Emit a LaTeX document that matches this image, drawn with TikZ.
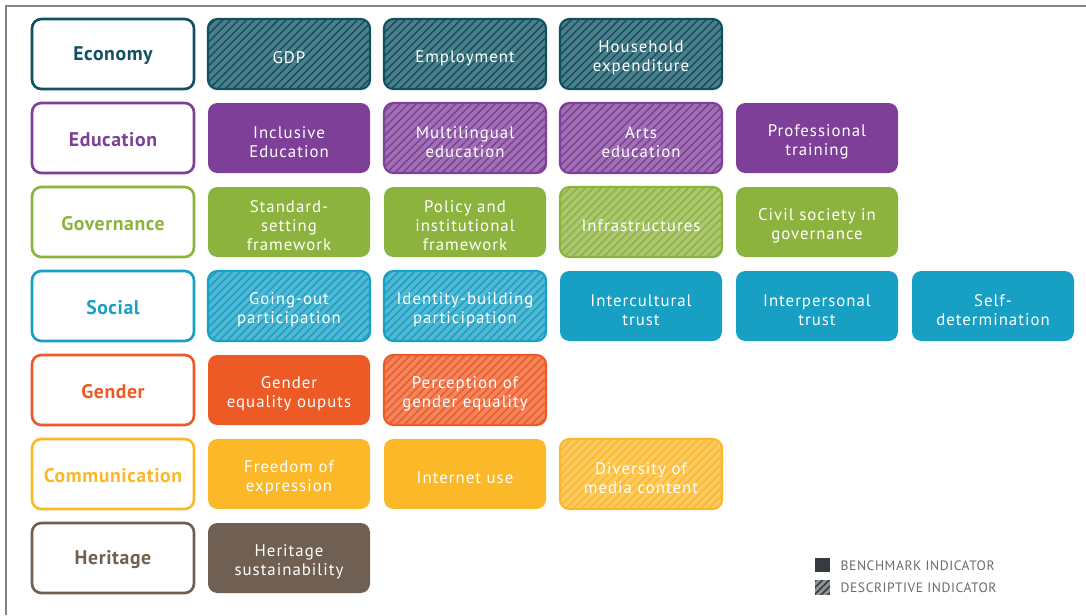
\documentclass[tikz,border=0pt]{standalone}
\usepackage{fontspec}
\setmainfont{PT Sans}
\newfontfamily\boxfont[LetterSpace=6]{PT Sans}
\newfontfamily\catfont[LetterSpace=3]{PT Sans}
\newfontfamily\keyfont[LetterSpace=4]{PT Sans}
\usepackage{tikz}
\usetikzlibrary{patterns.meta}

\definecolor{ecoCol}{HTML}{0F5160}
\definecolor{eduCol}{HTML}{7D3F98}
\definecolor{govCol}{HTML}{8DB33F}
\definecolor{socCol}{HTML}{179FC4}
\definecolor{genCol}{HTML}{EE5A25}
\definecolor{comCol}{HTML}{FBB829}
\definecolor{herCol}{HTML}{6F6053}
\definecolor{keyCol}{HTML}{353B40}
\definecolor{frameCol}{HTML}{858585}

\tikzset{
  cell/.style={rounded corners=7pt, minimum width=121.5pt, minimum height=52.5pt,
    text width=116pt, align=center, inner sep=0pt},
  catbox/.style={cell, draw=#1, line width=2pt, fill=white, text=#1,
    font=\catfont\bfseries\fontsize{14.8}{17}\selectfont,
    execute at begin node={\rule{0pt}{12.5pt}}},
  bench/.style={cell, fill=#1, text=white,
    font=\boxfont\fontsize{12.6}{14.2}\selectfont,
    execute at begin node={\rule{0pt}{14.6pt}}},
  descr/.style={bench=#1, draw=#1, line width=1.6pt, fill=#1!74!white,
    postaction={pattern={Lines[angle=45, distance=4.2pt, line width=1.1pt]}, pattern color=#1}},
  keytext/.style={anchor=west, text=black!58, font=\keyfont\fontsize{10.2}{12}\selectfont}
}

\begin{document}
\begin{tikzpicture}[x=0.75pt, y=-0.75pt]
\useasboundingbox (0, 0) rectangle (1086, 615);
\draw[frameCol, line width=1.1pt] (6, 615) -- (6, 6) -- (1086, 6);
% row 1
\node[catbox=ecoCol] (eco) at (113, 54) {Economy};
\node[descr=ecoCol] (gdp) at (289, 54) {GDP};
\node[descr=ecoCol] (employ) at (465, 54) {Employment};
\node[descr=ecoCol] (household) at (641, 54) {Household\\expenditure};
% row 2
\node[catbox=eduCol] (edu) at (113, 138) {Education};
\node[bench=eduCol] (inclusive) at (289, 138) {Inclusive\\Education};
\node[descr=eduCol] (multi) at (465, 138) {Multilingual\\education};
\node[descr=eduCol] (arts) at (641, 138) {Arts\\education};
\node[bench=eduCol] (profess) at (817, 138) {Professional\\training};
% row 3
\node[catbox=govCol] (gov) at (113, 222) {Governance};
\node[bench=govCol] (standard) at (289, 222) {Standard-\\setting\\framework};
\node[bench=govCol] (policy) at (465, 222) {Policy and\\institutional\\framework};
\node[descr=govCol] (infra) at (641, 222) {Infrastructures};
\node[bench=govCol] (civil) at (817, 222) {Civil society in\\governance};
% row 4
\node[catbox=socCol] (soc) at (113, 306) {Social};
\node[descr=socCol] (goingout) at (289, 306) {Going-out\\participation};
\node[descr=socCol] (identity) at (465, 306) {Identity-building\\participation};
\node[bench=socCol] (intercult) at (641, 306) {Intercultural\\trust};
\node[bench=socCol] (interpers) at (817, 306) {Interpersonal\\trust};
\node[bench=socCol] (selfdet) at (993, 306) {Self-\\determination};
% row 5
\node[catbox=genCol] (gen) at (113, 390) {Gender};
\node[bench=genCol] (genout) at (289, 390) {Gender\\equality ouputs};
\node[descr=genCol] (genperc) at (465, 390) {Perception of\\gender equality};
% row 6
\node[catbox=comCol] (com) at (113, 474) {Communication};
\node[bench=comCol] (freedom) at (289, 474) {Freedom of\\expression};
\node[bench=comCol] (internet) at (465, 474) {Internet use};
\node[descr=comCol] (diversity) at (641, 474) {Diversity of\\media content};
% row 7
\node[catbox=herCol] (her) at (113, 558) {Heritage};
\node[bench=herCol] (herisust) at (289, 558) {Heritage\\sustainability};
% legend
\node[fill=keyCol, minimum size=11.2pt, inner sep=0pt] (benchkey) at (822.5, 565) {};
\node[keytext] (benchtxt) at (836, 566) {BENCHMARK INDICATOR};
\node[fill=keyCol!55!white, minimum size=11.2pt, inner sep=0pt,
  postaction={pattern={Lines[angle=45, distance=3.6pt, line width=1.2pt]}, pattern color=keyCol}] (descrkey) at (822.5, 587.5) {};
\node[keytext] (descrtxt) at (836, 588) {DESCRIPTIVE INDICATOR};
\end{tikzpicture}
\end{document}
